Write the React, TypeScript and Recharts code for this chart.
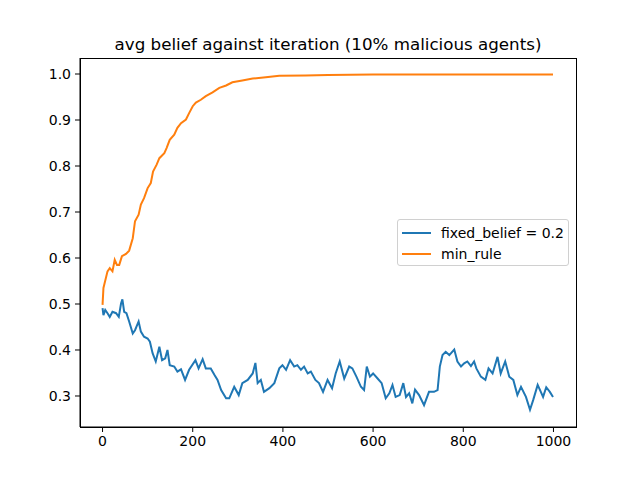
import React from 'react';
import { LineChart, Line, XAxis, YAxis } from 'recharts';

const fixedIter = [0, 2, 6, 11, 16, 22, 30, 36, 41, 44, 48, 53, 59, 67, 72, 80, 85, 92, 100, 105, 111, 118, 126, 132, 139, 144, 149, 159, 166, 174, 183, 192, 206, 213, 222, 229, 240, 248, 255, 263, 274, 281, 292, 302, 310, 322, 333, 339, 344, 351, 358, 370, 381, 392, 399, 407, 416, 425, 432, 440, 447, 455, 462, 472, 480, 489, 499, 509, 517, 526, 536, 547, 554, 563, 573, 580, 586, 593, 600, 610, 619, 628, 636, 643, 650, 659, 667, 673, 680, 687, 693, 702, 713, 724, 735, 743, 748, 754, 761, 769, 780, 787, 795, 802, 809, 817, 824, 829, 839, 849, 856, 865, 876, 883, 893, 902, 911, 920, 928, 939, 948, 955, 965, 972, 977, 984, 992, 999];
const fixedBelief = [0.491, 0.476, 0.487, 0.48, 0.472, 0.483, 0.48, 0.472, 0.501, 0.51, 0.483, 0.48, 0.462, 0.436, 0.443, 0.462, 0.44, 0.429, 0.425, 0.418, 0.393, 0.375, 0.407, 0.378, 0.382, 0.4, 0.367, 0.364, 0.353, 0.358, 0.335, 0.357, 0.378, 0.36, 0.38, 0.36, 0.36, 0.346, 0.335, 0.313, 0.295, 0.295, 0.32, 0.302, 0.328, 0.335, 0.349, 0.372, 0.328, 0.335, 0.309, 0.317, 0.328, 0.36, 0.367, 0.357, 0.378, 0.364, 0.367, 0.357, 0.364, 0.349, 0.353, 0.335, 0.328, 0.309, 0.335, 0.317, 0.349, 0.375, 0.338, 0.364, 0.36, 0.342, 0.32, 0.313, 0.364, 0.342, 0.349, 0.338, 0.328, 0.295, 0.306, 0.324, 0.298, 0.302, 0.328, 0.298, 0.306, 0.284, 0.314, 0.302, 0.28, 0.309, 0.309, 0.313, 0.364, 0.389, 0.396, 0.389, 0.401, 0.375, 0.364, 0.371, 0.375, 0.365, 0.375, 0.36, 0.342, 0.335, 0.36, 0.349, 0.385, 0.349, 0.375, 0.342, 0.335, 0.302, 0.32, 0.298, 0.27, 0.291, 0.324, 0.309, 0.298, 0.319, 0.309, 0.298];

const minIter = [0, 2, 11, 16, 22, 27, 32, 37, 43, 52, 59, 67, 72, 80, 85, 92, 100, 107, 112, 120, 126, 137, 142, 149, 159, 166, 174, 185, 192, 200, 207, 218, 229, 244, 259, 274, 288, 310, 333, 362, 392, 450, 500, 600, 700, 800, 900, 999];
const minRule = [0.498, 0.535, 0.571, 0.578, 0.571, 0.596, 0.585, 0.585, 0.604, 0.609, 0.616, 0.643, 0.68, 0.694, 0.716, 0.73, 0.752, 0.763, 0.788, 0.803, 0.817, 0.828, 0.839, 0.857, 0.868, 0.883, 0.893, 0.901, 0.915, 0.93, 0.938, 0.944, 0.952, 0.96, 0.97, 0.975, 0.982, 0.986, 0.99, 0.993, 0.996, 0.997, 0.998, 0.999, 0.999, 0.999, 0.999, 0.999];

const xTicks = [0, 200, 400, 600, 800, 1000];
const yTicks = [0.3, 0.4, 0.5, 0.6, 0.7, 0.8, 0.9, 1.0];

const fixedData = fixedIter.map((x, i) => ({ x, y: fixedBelief[i] }));
const minData = minIter.map((x, i) => ({ x, y: minRule[i] }));

const font = 'DejaVu Sans, sans-serif';
const tickStyle = { fill: '#000', fontSize: 14, fontFamily: font };

const legendItems = [
  { name: 'fixed_belief = 0.2', color: '#1f77b4' },
  { name: 'min_rule', color: '#ff7f0e' },
];

const App: React.FC = () => {
  return (
    <div style={{ position: 'absolute', left: 0, top: 0, width: 640, height: 480, background: '#fff' }}>
      <div
        style={{
          position: 'absolute',
          top: 34,
          left: 80,
          width: 496,
          textAlign: 'center',
          fontFamily: font,
          fontSize: 16.7,
          color: '#000',
        }}
      >
        avg belief against iteration (10% malicious agents)
      </div>
      <LineChart width={640} height={480} margin={{ top: 58, right: 64, left: 0, bottom: 23 }}>
        <XAxis
          type="number"
          dataKey="x"
          domain={[-50, 1050]}
          ticks={xTicks}
          allowDataOverflow
          height={30}
          tick={tickStyle}
          tickSize={5}
          tickMargin={4}
          stroke="#000"
          tickLine={{ stroke: '#000' }}
        />
        <YAxis
          type="number"
          domain={[0.2326, 1.0348]}
          ticks={yTicks}
          allowDataOverflow
          width={80}
          tick={tickStyle}
          tickFormatter={(v: number) => v.toFixed(1)}
          tickSize={5}
          tickMargin={4}
          stroke="#000"
          tickLine={{ stroke: '#000' }}
        />
        <Line
          data={fixedData}
          dataKey="y"
          name="fixed_belief = 0.2"
          stroke="#1f77b4"
          strokeWidth={2}
          dot={false}
          isAnimationActive={false}
          type="linear"
        />
        <Line
          data={minData}
          dataKey="y"
          name="min_rule"
          stroke="#ff7f0e"
          strokeWidth={2}
          dot={false}
          isAnimationActive={false}
          type="linear"
        />
      </LineChart>
      {/* frame around the plot area, like matplotlib's spines */}
      <div
        style={{
          position: 'absolute',
          left: 80,
          top: 58,
          width: 497,
          height: 370,
          border: '1px solid #000',
          boxSizing: 'border-box',
          pointerEvents: 'none',
        }}
      />
      <div
        style={{
          position: 'absolute',
          left: 397,
          top: 219,
          width: 172,
          height: 47,
          border: '1px solid #d0d0d0',
          borderRadius: 3,
          background: '#fff',
          fontFamily: font,
          fontSize: 14,
          color: '#000',
          boxSizing: 'border-box',
          padding: '2px 0 0 4px',
        }}
      >
        {legendItems.map((item) => (
          <div key={item.name} style={{ display: 'flex', alignItems: 'center', height: 21 }}>
            <div style={{ width: 29, height: 2, background: item.color, marginRight: 10 }} />
            <span>{item.name}</span>
          </div>
        ))}
      </div>
    </div>
  );
};

export default App;
